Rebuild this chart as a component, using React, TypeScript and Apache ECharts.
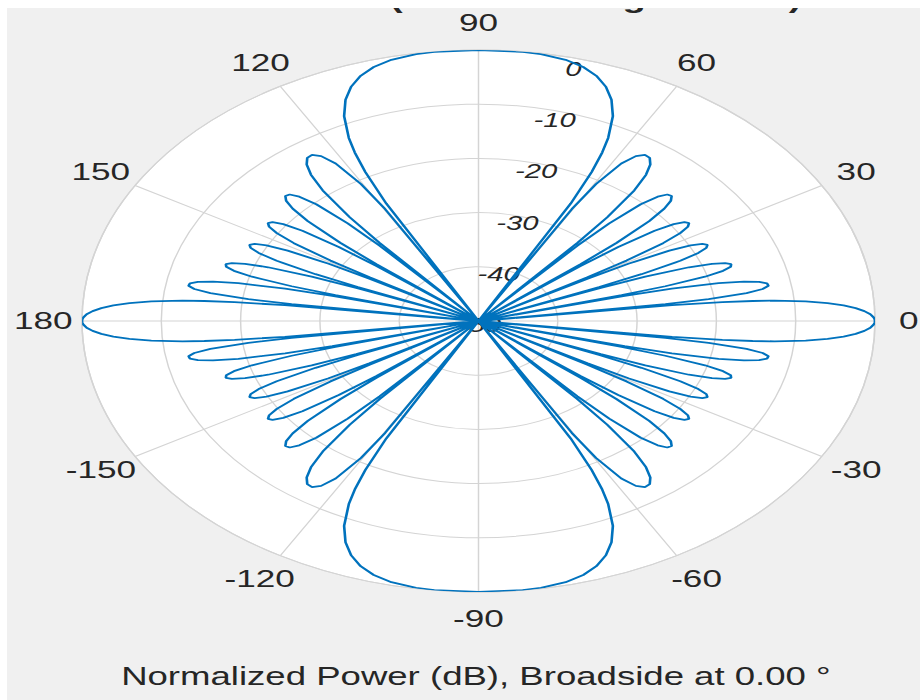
import React, { useEffect, useRef } from 'react';
import * as echarts from 'echarts';

// ---- data: first quadrant (0..90 deg), pattern is mirror symmetric ----
const mainLobeAngles = [0, 0.358, 0.716, 1.432, 2.149, 2.866, 3.583, 4.301, 5.019, 5.739, 6.099, 6.459, 6.82, 7.181];
const mainLobeDb = [0, -0.04, -0.14, -0.57, -1.31, -2.38, -3.87, -5.86, -8.58, -12.48, -15.23, -19.05, -25.4, -50];

const lobe1Angles = [7.542, 7.903, 8.627, 9.352, 10.079, 10.807, 11.537, 12.268, 13.004, 13.74, 14.108, 14.478];
const lobe1Db = [-26.23, -20.7, -15.81, -13.68, -12.86, -12.96, -13.89, -15.74, -18.92, -24.9, -30.99, -50];

const lobe2Angles = [14.848, 15.218, 15.962, 16.709, 17.458, 18.21, 18.966, 19.724, 20.487, 21.254, 21.638, 22.024];
const lobe2Db = [-31.33, -25.58, -20.29, -17.8, -16.66, -16.46, -17.12, -18.72, -21.67, -27.43, -33.41, -50];

const lobe3Angles = [22.411, 22.798, 23.578, 24.364, 25.151, 25.944, 26.744, 27.549, 28.359, 29.176, 29.587, 30.0];
const lobe3Db = [-33.55, -27.71, -22.24, -19.57, -18.26, -17.89, -18.39, -19.84, -22.65, -28.26, -34.17, -50];

const lobe4Angles = [30.414, 30.83, 31.668, 32.515, 33.367, 34.229, 35.097, 35.978, 36.87, 37.77, 38.226, 38.682];
const lobe4Db = [-34.17, -28.26, -22.65, -19.84, -18.39, -17.89, -18.26, -19.57, -22.24, -27.71, -33.55, -50];

const lobe5Angles = [39.141, 39.605, 40.542, 41.492, 42.453, 43.433, 44.427, 45.435, 46.471, 47.52, 48.054, 48.59];
const lobe5Db = [-33.41, -27.43, -21.67, -18.72, -17.12, -16.46, -16.66, -17.8, -20.29, -25.58, -31.33, -50];

const lobe6Angles = [49.137, 49.685, 50.806, 51.944, 53.13, 54.34, 55.59, 56.88, 58.212, 59.597, 60.31, 61.045];
const lobe6Db = [-30.99, -24.9, -18.92, -15.74, -13.89, -12.96, -12.86, -13.68, -15.81, -20.7, -26.23, -50];

const gratingLobeAngles = [61.79, 62.56, 63.35, 64.16, 65.85, 67.67, 69.64, 71.81, 74.26, 77.16, 80.93, 83.59, 90];
const gratingLobeDb = [-25.4, -19.05, -15.23, -12.48, -8.58, -5.86, -3.87, -2.38, -1.31, -0.57, -0.14, -0.04, 0];

const radiusTicks = { min: -50, max: 0, step: 10 };
const angleTicks = { min: -180, max: 180, step: 30 };

const titleText = 'Azimuth Cut (elevation angle = 0.0\u00B0)';
const footerText = 'Normalized Power (dB), Broadside at 0.00 \u00B0';

// ---- layout ----
const SCALE_X = 1.4631;
const CHART_W = 624;
const CHART_H = 692;
const CX = 322.26;
const CY = 313;
const R = 271;

const FONT = "'Liberation Sans', Arial, Helvetica, sans-serif";
const TEXT_COLOR = '#262626';
const GRID_COLOR = '#d4d4d4';

// padding [top, right, bottom, left] that centres each angle label on a ring just outside the rim
const angleLabelPadding: Record<string, number[]> = {
  '30': [0, 0, 11.5, 27.4],
  '60': [0, 0, 28.7, 10.2],
  '90': [0, 0, 35, 0],
  '120': [0, 3.5, 28.7, 0],
  '150': [0, 20.7, 11.5, 0],
  '-150': [11.5, 16.7, 0, 0],
  '-120': [28.7, 0, 0, 0],
  '-90': [35, 0, 0, 0],
  '-60': [28.7, 0, 0, 6.2],
  '-30': [11.5, 0, 0, 23.4],
};
// the two horizontal angle labels are drawn along their own radial axes
const horizontalAngleLabels = [
  { text: '0', startAngle: 0, radius: 294 },
  { text: '180', startAngle: 180, radius: 297.5 },
];

function richKey(v: number) {
  return 'a' + (v < 0 ? 'm' + -v : String(v));
}

function buildRich() {
  const rich: Record<string, any> = {};
  Object.keys(angleLabelPadding).forEach((k) => {
    rich[richKey(Number(k))] = {
      padding: angleLabelPadding[k],
      fontSize: 24,
      fontFamily: FONT,
      color: TEXT_COLOR,
    };
  });
  return rich;
}

function buildSeries(): number[][] {
  const angles = [
    ...mainLobeAngles, ...lobe1Angles, ...lobe2Angles, ...lobe3Angles,
    ...lobe4Angles, ...lobe5Angles, ...lobe6Angles, ...gratingLobeAngles,
  ];
  const db = [
    ...mainLobeDb, ...lobe1Db, ...lobe2Db, ...lobe3Db,
    ...lobe4Db, ...lobe5Db, ...lobe6Db, ...gratingLobeDb,
  ];
  const q = angles.map((a, i) => [a, db[i]]);
  const rev = q.slice().reverse();
  return [
    ...q.map(([a, d]) => [d, -180 + a]),
    ...rev.map(([a, d]) => [d, -a]),
    ...q.map(([a, d]) => [d, a]),
    ...rev.map(([a, d]) => [d, 180 - a]),
  ];
}

export default function App() {
  const ref = useRef<HTMLDivElement>(null);

  useEffect(() => {
    if (!ref.current) return;
    const chart = echarts.init(ref.current, undefined, { renderer: 'svg' });
    const data = buildSeries();

    const extraPolars = horizontalAngleLabels.map((h) => ({ center: [CX, CY], radius: h.radius }));
    const extraAngleAxes = horizontalAngleLabels.map((h, i) => ({
      polarIndex: 3 + i,
      type: 'value',
      min: 0,
      max: 360,
      startAngle: h.startAngle,
      show: false,
    }));
    const extraRadiusAxes = horizontalAngleLabels.map((h, i) => ({
      polarIndex: 3 + i,
      type: 'value',
      min: radiusTicks.min,
      max: radiusTicks.max,
      interval: radiusTicks.max - radiusTicks.min,
      z: 4,
      axisLine: { show: false },
      axisTick: { show: false },
      splitLine: { show: false },
      axisLabel: {
        show: true,
        margin: 0,
        align: 'center',
        verticalAlign: 'middle',
        color: TEXT_COLOR,
        fontSize: 24,
        fontFamily: FONT,
        formatter: (v: number) => (v === radiusTicks.max ? h.text : ''),
      },
    }));

    chart.setOption({
      animation: false,
      backgroundColor: 'transparent',
      polar: [
        { center: [CX, CY], radius: R },
        { center: [CX + 1, CY + 4], radius: 264 },
        { center: [CX, CY], radius: R },
        ...extraPolars,
      ],
      angleAxis: [
        {
          polarIndex: 0,
          type: 'value',
          min: angleTicks.min,
          max: angleTicks.max,
          interval: angleTicks.step,
          startAngle: 180,
          clockwise: false,
          z: 2,
          axisLine: { show: true, lineStyle: { color: GRID_COLOR, width: 1 } },
          axisTick: { show: false },
          axisLabel: {
            show: true,
            margin: -20,
            color: TEXT_COLOR,
            fontSize: 24,
            fontFamily: FONT,
            formatter: (v: number) =>
              angleLabelPadding[String(v)] ? `{${richKey(v)}|${v}}` : '',
            rich: buildRich(),
          },
          splitLine: { show: true, lineStyle: { color: GRID_COLOR, width: 1 } },
          splitArea: { show: false },
        },
        {
          polarIndex: 1,
          type: 'value',
          min: 0,
          max: 360,
          startAngle: 76,
          show: false,
        },
        {
          polarIndex: 2,
          type: 'value',
          min: angleTicks.min,
          max: angleTicks.max,
          interval: angleTicks.step,
          startAngle: 180,
          clockwise: false,
          z: 0,
          axisLine: { show: false },
          axisTick: { show: false },
          axisLabel: { show: false },
          splitLine: { show: false },
          splitArea: { show: true, areaStyle: { color: ['#ffffff', '#ffffff'] } },
        },
        ...extraAngleAxes,
      ],
      radiusAxis: [
        {
          polarIndex: 0,
          type: 'value',
          min: radiusTicks.min,
          max: radiusTicks.max,
          interval: radiusTicks.step,
          z: 3,
          axisLine: { show: false },
          axisTick: { show: false },
          axisLabel: { show: false },
          splitLine: { show: true, lineStyle: { color: GRID_COLOR, width: 1 } },
        },
        {
          polarIndex: 1,
          type: 'value',
          min: radiusTicks.min,
          max: radiusTicks.max,
          interval: radiusTicks.step,
          z: 4,
          axisLine: { show: false },
          axisTick: { show: false },
          splitLine: { show: false },
          axisLabel: {
            show: true,
            margin: 0,
            align: 'center',
            verticalAlign: 'middle',
            color: TEXT_COLOR,
            fontSize: 20,
            fontStyle: 'italic',
            fontFamily: FONT,
          },
        },
        {
          polarIndex: 2,
          type: 'value',
          min: radiusTicks.min,
          max: radiusTicks.max,
          interval: radiusTicks.step,
          show: false,
        },
        ...extraRadiusAxes,
      ],
      graphic: [
        {
          type: 'text',
          x: CX,
          y: -9,
          style: {
            text: titleText,
            fill: TEXT_COLOR,
            fontSize: 26,
            fontWeight: 'bold',
            fontFamily: FONT,
            align: 'center',
            verticalAlign: 'middle',
          },
        },
        {
          type: 'text',
          x: 320.5,
          y: 669,
          style: {
            text: footerText,
            fill: TEXT_COLOR,
            fontSize: 25,
            fontFamily: FONT,
            align: 'center',
            verticalAlign: 'middle',
          },
        },
      ],
      series: [
        {
          type: 'line',
          coordinateSystem: 'polar',
          polarIndex: 0,
          showSymbol: false,
          symbol: 'none',
          smooth: false,
          lineStyle: { color: '#0072BD', width: 1.8 },
          data,
          z: 5,
        },
      ],
    });

    return () => chart.dispose();
  }, []);

  return (
    <div
      style={{
        position: 'fixed',
        left: 7,
        top: 8,
        width: 913,
        height: 692,
        background: '#f0f0f0',
        overflow: 'hidden',
      }}
    >
      <div
        ref={ref}
        style={{
          position: 'absolute',
          left: 0,
          top: 0,
          width: CHART_W,
          height: CHART_H,
          transform: `scaleX(${SCALE_X})`,
          transformOrigin: '0 0',
        }}
      />
    </div>
  );
}
